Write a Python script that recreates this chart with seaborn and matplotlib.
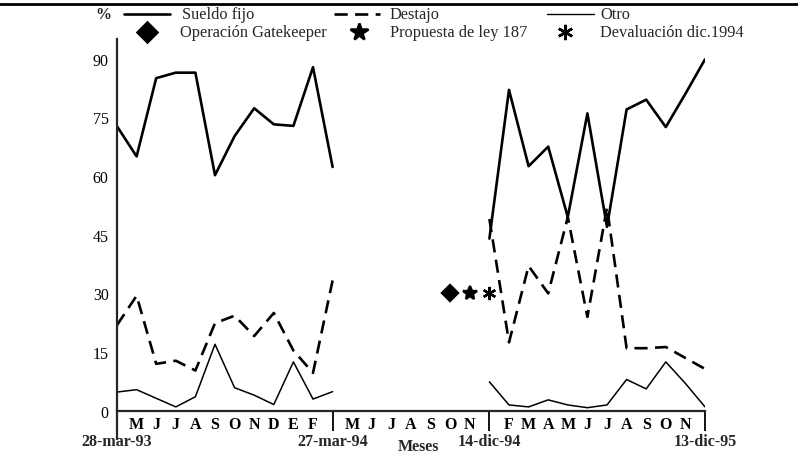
import matplotlib
matplotlib.use("Agg")
import matplotlib.pyplot as plt
from matplotlib.lines import Line2D
import pandas as pd
import seaborn as sns

# posiciones mensuales: 0 = 28-mar-93, 11 = 27-mar-94, 19 = 14-dic-94, 30 = 13-dic-95
pos_93 = list(range(0, 12))
pos_95 = list(range(19, 31))

sueldo_fijo_93 = [72.7, 65.0, 85.0, 86.4, 86.4, 60.2, 70.2, 77.3, 73.2, 72.8, 87.8, 62.3]
destajo_93 = [21.9, 29.4, 12.0, 12.8, 10.3, 22.4, 24.3, 19.1, 25.0, 15.4, 9.7, 33.3]
otro_93 = [4.8, 5.4, 3.2, 1.0, 3.6, 17.0, 5.9, 4.0, 1.6, 12.5, 3.0, 4.9]

sueldo_fijo_95 = [44.0, 82.0, 62.5, 67.5, 49.5, 76.0, 47.0, 77.0, 79.5, 72.5, 81.0, 89.8]
destajo_95 = [49.0, 17.5, 37.0, 30.0, 49.5, 24.0, 52.0, 16.0, 16.0, 16.3, 13.5, 10.7]
otro_95 = [7.4, 1.5, 1.0, 2.8, 1.5, 0.8, 1.5, 8.0, 5.6, 12.5, 7.0, 1.0]

meses_93 = ["M", "J", "J", "A", "S", "O", "N", "D", "E", "F"]
meses_94 = ["M", "J", "J", "A", "S", "O", "N"]
meses_95 = ["F", "M", "A", "M", "J", "J", "A", "S", "O", "N"]
pos_meses = list(range(1, 11)) + list(range(12, 19)) + list(range(20, 30))

fechas = ["28-mar-93", "27-mar-94", "14-dic-94", "13-dic-95"]
pos_fechas = [0, 11, 19, 30]
pos_cortes = [11, 19, 30]

eventos = ["Operación Gatekeeper", "Propuesta de ley 187", "Devaluación dic.1994"]
pos_eventos = [17, 18, 19]
valor_eventos = [30, 30, 30]

series = ["Sueldo fijo", "Destajo", "Otro"]
yticks = [0, 15, 30, 45, 60, 75, 90]

# tabla larga para seaborn
filas = []
for serie, v93, v95 in [("Sueldo fijo", sueldo_fijo_93, sueldo_fijo_95),
                        ("Destajo", destajo_93, destajo_95),
                        ("Otro", otro_93, otro_95)]:
    for p, v in zip(pos_93, v93):
        filas.append({"pos": p, "valor": v, "serie": serie, "tramo": "93-94"})
    for p, v in zip(pos_95, v95):
        filas.append({"pos": p, "valor": v, "serie": serie, "tramo": "94-95"})
df = pd.DataFrame(filas)

sns.set_style("white")
plt.rcParams["font.family"] = ["Liberation Serif", "DejaVu Serif"]
plt.rcParams["axes.linewidth"] = 1.6

W, H = 798, 460
fig = plt.figure(figsize=(W / 100, H / 100), dpi=100)
ax = fig.add_axes([117 / W, 1 - 440 / H, 588 / W, 400 / H])

guion = (5.0, 2.8)
negro = {s: "black" for s in series}
sns.lineplot(data=df, x="pos", y="valor", hue="serie", style="serie", size="serie",
             units="tramo", estimator=None, palette=negro,
             dashes={"Sueldo fijo": "", "Destajo": guion, "Otro": ""},
             sizes={"Sueldo fijo": 1.9, "Destajo": 1.9, "Otro": 1.1},
             legend=False, ax=ax)

# eventos
marcadores = ["D", "*", (6, 2, 0)]
tamanos = [8.5, 10, 9.5]
for p, v, m, t in zip(pos_eventos, valor_eventos, marcadores, tamanos):
    ax.plot([p], [v], marker=m, ms=t, color="black", mew=1.7, ls="none")

ax.set_xlim(0, 30)
ax.set_ylim(-7.2, 95)
ax.spines["top"].set_visible(False)
ax.spines["right"].set_visible(False)
ax.spines["bottom"].set_position(("data", 0))
ax.spines["bottom"].set_bounds(0, 30)
ax.set_yticks(yticks)
ax.set_yticklabels([str(t) for t in yticks], fontsize=11.5)
ax.set_xticks(pos_meses)
ax.set_xticklabels(meses_93 + meses_94 + meses_95, fontsize=11.5, fontweight="bold")
ax.tick_params(axis="y", direction="out", length=4, width=1.2, pad=2, colors="black")
ax.tick_params(axis="x", direction="inout", length=5, width=1.0, pad=1, colors="black")
ax.set_xlabel("")
ax.set_ylabel("")

# cortes del eje x
ax.vlines(pos_cortes, -5.2, 0, color="black", lw=1.3, clip_on=False)
for p, f in zip(pos_fechas, fechas):
    ax.text(p, -7.8, f, ha="center", va="center", fontsize=11.5, fontweight="bold", clip_on=False)
ax.text(15.4, -8.9, "Meses", ha="center", va="center", fontsize=11.5, fontweight="bold", clip_on=False)


# leyenda dibujada a mano en coordenadas de figura
def fx(px):
    return px / W


def fy(py):
    return 1 - py / H


fig.add_artist(Line2D([0, 1], [fy(5), fy(5)], color="black", lw=2.0))
fig.text(fx(103), fy(15), "%", ha="center", va="center", fontsize=11.5, fontweight="bold")

muestras = [("-", 1.9, None), ("--", 1.9, guion), ("-", 1.0, None)]
x_muestra = [(124, 170), (334, 380), (547, 594)]
x_texto = [182, 390, 600]
for serie, (ls, lw, dash), (x0, x1), xt in zip(series, muestras, x_muestra, x_texto):
    linea = Line2D([fx(x0), fx(x1)], [fy(15), fy(15)], color="black", lw=lw, ls=ls)
    if dash is not None:
        linea.set_dashes(dash)
    fig.add_artist(linea)
    fig.text(fx(xt), fy(15), serie, ha="left", va="center", fontsize=11.8)

x_marca = [147, 359, 565]
tam_leyenda = [10, 13, 11]
for ev, m, t, xm, xt in zip(eventos, marcadores, tam_leyenda, x_marca, [180, 390, 600]):
    fig.add_artist(Line2D([fx(xm)], [fy(33)], marker=m, ms=t, color="black", mew=1.8, ls="none"))
    fig.text(fx(xt), fy(33), ev, ha="left", va="center", fontsize=11.8)

fig.savefig("out.png", dpi=100)
